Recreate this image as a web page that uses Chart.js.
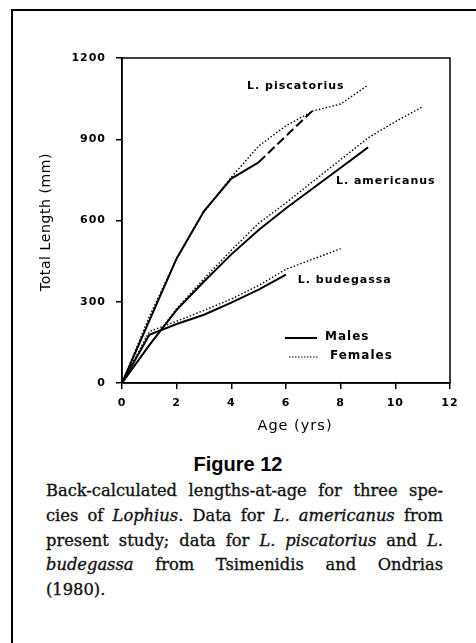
<!DOCTYPE html>
<html>
<head>
<meta charset="utf-8">
<script src="https://cdn.jsdelivr.net/npm/chart.js@4/dist/chart.umd.min.js"></script>
<style>
  body { margin: 0; background: #fff; }
  #page { position: relative; width: 476px; height: 643px; background: #fff; overflow: hidden; }
  #frameTop { position: absolute; left: 11px; top: 9px; width: 470px; height: 2px; background: #000; }
  #frameLeft { position: absolute; left: 11px; top: 9px; width: 2px; height: 640px; background: #000; }
  #chart { position: absolute; left: 0; top: 0; }
  #figTitle { position: absolute; left: 0; width: 476px; top: 453px; text-align: center;
    font-family: "Liberation Sans", Arial, sans-serif; font-weight: bold; font-size: 20px; color: #000; }
  #caption { position: absolute; left: 46px; width: 397px; top: 479px;
    font-family: "DejaVu Serif", serif; font-size: 16.3px; line-height: 24.8px; color: #111;
    -webkit-text-stroke: 0.35px #111; }
  #caption div { text-align: justify; text-align-last: justify; white-space: nowrap; }
  #caption div.last { text-align-last: left; }
</style>
</head>
<body>
<div id="page">
  <div id="frameTop"></div>
  <div id="frameLeft"></div>
  <canvas id="chart" width="476" height="440"></canvas>
  <div id="figTitle">Figure 12</div>
  <div id="caption">
    <div>Back-calculated lengths-at-age for three spe-</div>
    <div>cies of <i>Lophius</i>. Data for <i>L. americanus</i> from</div>
    <div>present study; data for <i>L. piscatorius</i> and <i>L.</i></div>
    <div><i>budegassa</i> from Tsimenidis and Ondrias</div>
    <div class="last">(1980).</div>
  </div>
</div>
<script>
// Ages (yrs) and back-calculated total lengths (mm)
const piscAgesM = [0, 1, 2, 3, 4, 5, 6, 7];
const piscMales = [0, 230, 460, 635, 755, 815, 912, 1008];
const piscAgesF = [0, 1, 2, 3, 4, 5, 6, 7, 8, 9];
const piscFemales = [0, 245, 460, 632, 760, 875, 950, 1005, 1030, 1100];

const amerAgesM = [0, 1, 2, 3, 4, 5, 6, 7, 8, 9];
const amerMales = [0, 140, 270, 375, 475, 565, 645, 720, 795, 870];
const amerAgesF = [0, 1, 2, 3, 4, 5, 6, 7, 8, 9, 10, 11];
const amerFemales = [0, 140, 275, 385, 490, 590, 665, 745, 825, 905, 965, 1020];

const budeAgesM = [0, 1, 2, 3, 4, 5, 6];
const budeMales = [0, 178, 218, 252, 297, 345, 400];
const budeAgesF = [0, 1, 2, 3, 4, 5, 6, 7, 8];
const budeFemales = [0, 190, 228, 268, 310, 360, 420, 458, 496];

const speciesLabels = ['L. piscatorius', 'L. americanus', 'L. budegassa'];
const legendLabels = ['Males', 'Females'];
const xTitle = 'Age (yrs)';
const yTitle = 'Total Length (mm)';
const xTicks = [0, 2, 4, 6, 8, 10, 12];
const yTicks = [0, 300, 600, 900, 1200];

const sansFont = '"DejaVu Sans", sans-serif';

function toPoints(ages, values) {
    return ages.map((a, i) => ({ x: a, y: values[i] }));
}

function maleSet(ages, values, dashFrom) {
    return {
        data: toPoints(ages, values),
        borderColor: '#000',
        borderWidth: 2,
        pointRadius: 0,
        tension: 0,
        segment: {
            borderDash: ctx => (dashFrom !== undefined && ctx.p0.parsed.x >= dashFrom) ? [9, 4] : undefined
        }
    };
}

function femaleSet(ages, values) {
    return {
        data: toPoints(ages, values),
        borderColor: '#000',
        borderWidth: 1.4,
        borderDash: [1.5, 2],
        pointRadius: 0,
        tension: 0
    };
}

// wider letter spacing like the scanned original
const spacing = {
    id: 'spacing',
    beforeDraw(chart) {
        chart.ctx.letterSpacing = '1px';
    }
};

// Axis titles, species names and the legend
const annotations = {
    id: 'annotations',
    afterDatasetsDraw(chart) {
        const { ctx, scales: { x, y } } = chart;
        const anchors = [[6.36, 1096], [9.65, 744], [8.15, 378]];
        ctx.save();
        ctx.fillStyle = '#000';
        ctx.textBaseline = 'middle';

        // axis titles
        ctx.textAlign = 'center';
        ctx.font = '14.5px ' + sansFont;
        ctx.letterSpacing = '1px';
        ctx.fillText(xTitle, 295, 426);
        ctx.save();
        ctx.translate(46, 222);
        ctx.rotate(-Math.PI / 2);
        ctx.font = '14px ' + sansFont;
        ctx.letterSpacing = '0.6px';
        ctx.fillText(yTitle, 0, 0);
        ctx.restore();

        ctx.font = 'bold 11px ' + sansFont;
        ctx.letterSpacing = '1px';
        speciesLabels.forEach((t, i) => {
            ctx.fillText(t, x.getPixelForValue(anchors[i][0]), y.getPixelForValue(anchors[i][1]));
        });

        // legend
        ctx.strokeStyle = '#000';
        ctx.lineWidth = 2;
        ctx.beginPath();
        ctx.moveTo(285, 338);
        ctx.lineTo(317, 338);
        ctx.stroke();
        ctx.lineWidth = 1.2;
        ctx.setLineDash([1.5, 1.5]);
        ctx.beginPath();
        ctx.moveTo(289, 357);
        ctx.lineTo(319, 357);
        ctx.stroke();
        ctx.setLineDash([]);
        ctx.textAlign = 'left';
        ctx.font = 'bold 12px ' + sansFont;
        ctx.fillText(legendLabels[0], 325, 337);
        ctx.fillText(legendLabels[1], 330, 356);

        // plot box
        const a = chart.chartArea;
        ctx.lineWidth = 1.5;
        ctx.strokeRect(a.left, a.top, a.right - a.left, a.bottom - a.top);
        ctx.restore();
    }
};

const chartCtx = document.getElementById('chart').getContext('2d');

new Chart(chartCtx, {
    type: 'line',
    data: {
        datasets: [
            maleSet(piscAgesM, piscMales, 5),
            femaleSet(piscAgesF, piscFemales),
            maleSet(amerAgesM, amerMales),
            femaleSet(amerAgesF, amerFemales),
            maleSet(budeAgesM, budeMales),
            femaleSet(budeAgesF, budeFemales)
        ]
    },
    options: {
        responsive: false,
        animation: false,
        layout: { padding: { top: 58, right: 26, left: 0, bottom: 0 } },
        plugins: {
            legend: { display: false },
            tooltip: { enabled: false }
        },
        scales: {
            x: {
                type: 'linear',
                min: 0,
                max: 12,
                afterBuildTicks: s => { s.ticks = xTicks.map(v => ({ value: v })); },
                ticks: { color: '#000', padding: 8, font: { family: sansFont, size: 11, weight: 'bold' },
                    callback: v => String(v) },
                grid: { drawOnChartArea: false, tickLength: 6, color: '#000', lineWidth: 1.5 },
                border: { color: '#000', width: 1.5 },
                afterFit: s => { s.height = 57; }
            },
            y: {
                min: 0,
                max: 1200,
                afterBuildTicks: s => { s.ticks = yTicks.map(v => ({ value: v })); },
                ticks: { color: '#000', padding: 10, font: { family: sansFont, size: 11, weight: 'bold' },
                    callback: v => String(v) },
                grid: { drawOnChartArea: false, tickLength: 6, color: '#000', lineWidth: 1.5 },
                border: { color: '#000', width: 1.5 },
                afterFit: s => { s.width = 122; }
            }
        }
    },
    plugins: [spacing, annotations]
});
</script>
</body>
</html>
